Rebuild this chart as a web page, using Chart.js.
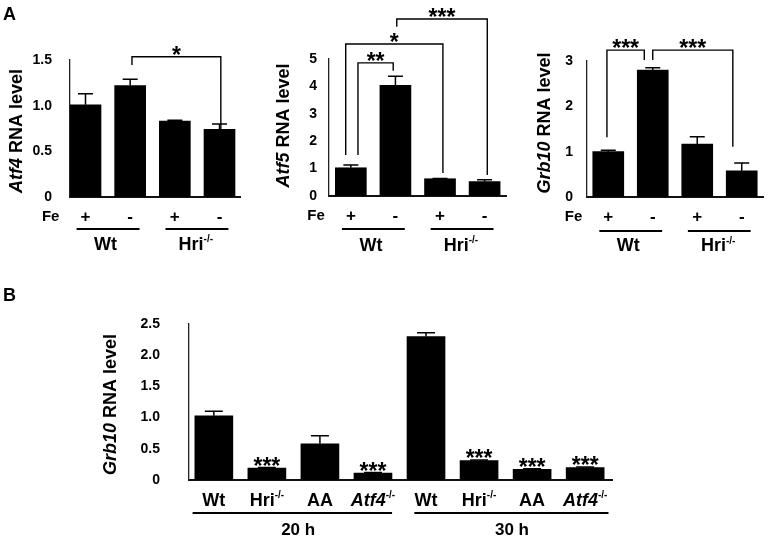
<!DOCTYPE html>
<html>
<head>
<meta charset="utf-8">
<script src="https://cdn.jsdelivr.net/npm/chart.js@4.4.1/dist/chart.umd.min.js"></script>
<style>
  body { margin: 0; background: #fff; }
  #wrap { position: relative; width: 770px; height: 541px; overflow: hidden; }
  #wrap canvas { position: absolute; left: 0; top: 0; }
  .letter { position: absolute; font: bold 18px "Liberation Sans", Arial, sans-serif; line-height: 18px; color: #000; }
</style>
</head>
<body>
<div id="wrap">
  <canvas id="atf4" width="770" height="541"></canvas>
  <canvas id="atf5" width="770" height="541"></canvas>
  <canvas id="grb10" width="770" height="541"></canvas>
  <canvas id="grb10b" width="770" height="541"></canvas>
  <div class="letter" style="left:3px;top:5px">A</div>
  <div class="letter" style="left:3px;top:286px">B</div>
</div>
<script>
// panel A: Fe +/- in Wt and Hri-/- cells
const feSigns = ['+', '-', '+', '-'];
const genotypes = ['Wt', 'Hri-/-'];
const atf4Values = [1.01, 1.22, 0.83, 0.74];
const atf4Errors = [0.12, 0.07, 0.01, 0.06];
const atf5Values = [1.03, 4.04, 0.63, 0.53];
const atf5Errors = [0.10, 0.33, 0.01, 0.06];
const grb10Values = [1.00, 2.80, 1.17, 0.58];
const grb10Errors = [0.03, 0.05, 0.16, 0.17];

// panel B: Grb10 at 20 h and 30 h
const bLabels = ['Wt', 'Hri-/-', 'AA', 'Atf4-/-', 'Wt', 'Hri-/-', 'AA', 'Atf4-/-'];
const bTimes = ['20 h', '30 h'];
const bValues = [1.03, 0.19, 0.58, 0.11, 2.30, 0.31, 0.17, 0.20];
const bErrors = [0.07, 0.01, 0.13, 0.01, 0.06, 0.01, 0.01, 0.01];
const bSignif = ['', '***', '', '***', '', '***', '***', '***'];

const italicNames = ['Atf4', 'Atf5', 'Grb10'];
const FAM = '"Liberation Sans", Arial, sans-serif';

function labelParts(text, size) {
  let sup = '';
  if (text.endsWith('-/-')) { sup = '-/-'; text = text.slice(0, -3); }
  const it = italicNames.includes(text) ? 'italic ' : '';
  const parts = [{ t: text, font: it + 'bold ' + size + 'px ' + FAM }];
  if (sup) parts.push({ t: sup, font: 'bold ' + Math.round(size * 0.55) + 'px ' + FAM, dy: -size * 0.3 });
  return parts;
}

function drawParts(ctx, parts, x, y) {
  let w = 0;
  parts.forEach(p => { ctx.font = p.font; p.w = ctx.measureText(p.t).width; w += p.w; });
  let cx = x - w / 2;
  ctx.textAlign = 'left';
  parts.forEach(p => { ctx.font = p.font; ctx.fillText(p.t, cx, y + (p.dy || 0)); cx += p.w; });
}

const panels = {};

const annot = {
  id: 'annot',
  afterDatasetsDraw(chart) {
    const cfg = panels[chart.canvas.id];
    const ctx = chart.ctx, xs = chart.scales.x, ys = chart.scales.y;
    const area = chart.chartArea;
    const meta = chart.getDatasetMeta(0);
    ctx.save();
    ctx.strokeStyle = '#000';
    ctx.fillStyle = '#000';
    ctx.lineWidth = 1.5;
    // error bars (upper half only)
    meta.data.forEach((bar, i) => {
      const top = ys.getPixelForValue(cfg.values[i] + cfg.errors[i]);
      ctx.beginPath();
      ctx.moveTo(bar.x, bar.y);
      ctx.lineTo(bar.x, top);
      ctx.moveTo(bar.x - cfg.cap / 2, top);
      ctx.lineTo(bar.x + cfg.cap / 2, top);
      ctx.stroke();
    });
    // stars over bars
    ctx.textBaseline = 'alphabetic';
    (cfg.stars || []).forEach((s, i) => {
      if (!s) return;
      const top = ys.getPixelForValue(cfg.values[i] + cfg.errors[i]);
      ctx.font = 'bold 23px ' + FAM;
      ctx.textAlign = 'center';
      ctx.fillText(s, meta.data[i].x, top + 6);
    });
    // significance brackets
    ctx.lineWidth = 1.4;
    (cfg.brackets || []).forEach(b => {
      const x1 = xs.getPixelForValue(b.x1), x2 = xs.getPixelForValue(b.x2);
      const yt = ys.getPixelForValue(b.top);
      ctx.beginPath();
      ctx.moveTo(x1, ys.getPixelForValue(b.y1));
      ctx.lineTo(x1, yt);
      ctx.lineTo(x2, yt);
      ctx.lineTo(x2, ys.getPixelForValue(b.y2));
      ctx.stroke();
      ctx.font = 'bold 23px ' + FAM;
      ctx.textAlign = 'center';
      ctx.fillText(b.label, (x1 + x2) / 2, yt + 6);
    });
    // labels under the axis
    ctx.textBaseline = 'middle';
    if (cfg.signs) {
      ctx.textAlign = 'center';
      ctx.font = 'bold 15px ' + FAM;
      ctx.fillText('Fe', xs.getPixelForValue(-0.78), area.bottom + 20);
      ctx.font = 'bold 17px ' + FAM;
      cfg.signs.forEach((s, i) => ctx.fillText(s, xs.getPixelForValue(i), area.bottom + 20));
    }
    if (cfg.cats) {
      cfg.cats.forEach((c, i) => drawParts(ctx, labelParts(c, 18), xs.getPixelForValue(i), area.bottom + 21));
    }
    ctx.lineWidth = 1.8;
    cfg.groups.forEach(g => {
      const y = area.bottom + cfg.lineDy;
      ctx.beginPath();
      ctx.moveTo(xs.getPixelForValue(g.from), y);
      ctx.lineTo(xs.getPixelForValue(g.to), y);
      ctx.stroke();
      const at = g.at !== undefined ? g.at : (g.from + g.to) / 2;
      drawParts(ctx, labelParts(g.label, cfg.groupSize), xs.getPixelForValue(at), area.bottom + cfg.labelDy);
    });
    // y-axis title, gene name in italics
    ctx.save();
    ctx.translate(area.left + cfg.titleDx, (area.top + area.bottom) / 2 + cfg.titleDy);
    ctx.rotate(-Math.PI / 2);
    drawParts(ctx, [
      { t: cfg.gene, font: 'italic bold 18px ' + FAM },
      { t: ' RNA level', font: 'bold 18px ' + FAM }
    ], 0, 0);
    ctx.restore();
    ctx.restore();
  }
};

function makeChart(id, cfg) {
  panels[id] = cfg;
  const a = cfg.area;
  return new Chart(document.getElementById(id), {
    type: 'bar',
    data: {
      datasets: [{
        data: cfg.values.map((v, i) => ({ x: i, y: v })),
        backgroundColor: '#000',
        borderWidth: 0,
        barThickness: cfg.barW
      }]
    },
    options: {
      responsive: false,
      animation: false,
      devicePixelRatio: 1,
      layout: { padding: { left: a.l - 50, right: 770 - a.r, top: a.t, bottom: 541 - a.b } },
      plugins: { legend: { display: false }, tooltip: { enabled: false } },
      scales: {
        x: {
          type: 'linear', min: cfg.xMin, max: cfg.xMax, offset: false, bounds: 'data',
          grid: { display: false, drawTicks: false },
          ticks: { display: false },
          border: { display: true, color: '#111', width: 2 },
          afterFit: s => { s.height = 0; }
        },
        y: {
          min: 0, max: cfg.yMax,
          grid: { display: false, drawTicks: false },
          border: { color: '#222', width: 1.3 },
          ticks: {
            stepSize: cfg.yStep, padding: cfg.tickPad, color: '#000',
            font: { family: FAM, size: 14, weight: 'bold' },
            callback: cfg.fmt
          },
          afterFit: s => { s.width = 50; }
        }
      }
    },
    plugins: [annot]
  });
}

const oneDec = v => v === 0 ? '0' : v.toFixed(1);
const whole = v => String(v);
const aGroups = [
  { from: -0.2, to: 1.21, label: genotypes[0], at: 0.45 },
  { from: 1.79, to: 3.2, label: genotypes[1], at: 2.47 }
];

makeChart('atf4', {
  values: atf4Values, errors: atf4Errors, gene: 'Atf4',
  area: { l: 70, r: 240, t: 60, b: 197 }, xMin: -0.347, xMax: 3.459,
  yMax: 1.5, yStep: 0.5, tickPad: 18, fmt: oneDec, barW: 31, cap: 15,
  titleDx: -52.5, titleDy: 2.5,
  signs: feSigns, groups: aGroups, lineDy: 32, labelDy: 48, groupSize: 18,
  brackets: [{ x1: 1.04, x2: 3.03, top: 1.536, y1: 1.445, y2: 0.59, label: '*' }]
});

makeChart('atf5', {
  values: atf5Values, errors: atf5Errors, gene: 'Atf5',
  area: { l: 329, r: 506, t: 59, b: 196 }, xMin: -0.49, xMax: 3.48,
  yMax: 5, yStep: 1, tickPad: 12, fmt: whole, barW: 31, cap: 15,
  titleDx: -44.5, titleDy: -2,
  signs: feSigns, groups: aGroups, lineDy: 33, labelDy: 50, groupSize: 18,
  brackets: [
    { x1: 0.16, x2: 0.95, top: 4.86, y1: 1.5, y2: 4.57, label: '**' },
    { x1: -0.115, x2: 2.065, top: 5.55, y1: 1.5, y2: 0.84, label: '*' },
    { x1: 1.03, x2: 3.06, top: 6.46, y1: 6.18, y2: 0.77, label: '***' }
  ]
});

makeChart('grb10', {
  values: grb10Values, errors: grb10Errors, gene: 'Grb10',
  area: { l: 587, r: 763, t: 61, b: 197 }, xMin: -0.478, xMax: 3.478,
  yMax: 3, yStep: 1, tickPad: 14, fmt: whole, barW: 31, cap: 15,
  titleDx: -41.5, titleDy: -6,
  signs: feSigns, groups: aGroups, lineDy: 34, labelDy: 49.5, groupSize: 18,
  brackets: [
    { x1: -0.03, x2: 0.81, top: 3.24, y1: 1.32, y2: 3.02, label: '***' },
    { x1: 1.0, x2: 2.8, top: 3.24, y1: 3.02, y2: 1.11, label: '***' }
  ]
});

makeChart('grb10b', {
  values: bValues, errors: bErrors, gene: 'Grb10', stars: bSignif,
  area: { l: 189, r: 612, t: 324, b: 480 }, xMin: -0.468, xMax: 7.506,
  yMax: 2.5, yStep: 0.5, tickPad: 29, fmt: oneDec, barW: 38, cap: 18,
  titleDx: -78, titleDy: 2.5,
  cats: bLabels, lineDy: 33, labelDy: 50, groupSize: 17,
  groups: [
    { from: -0.4, to: 3.36, label: bTimes[0], at: 1.59 },
    { from: 3.78, to: 7.44, label: bTimes[1], at: 5.62 }
  ]
});
</script>
</body>
</html>
